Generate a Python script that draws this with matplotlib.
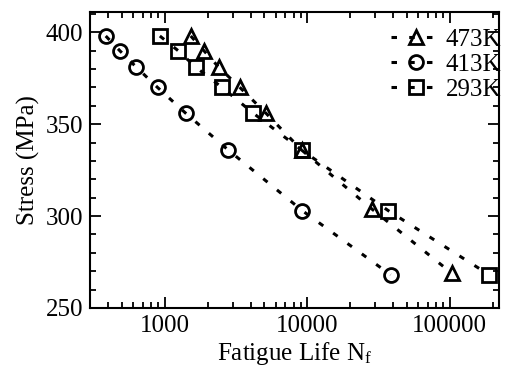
import matplotlib
matplotlib.use("Agg")
import matplotlib.pyplot as plt
from matplotlib.ticker import LogLocator, MultipleLocator, FixedLocator, NullFormatter

plt.rcParams['font.family'] = ['Liberation Serif', 'DejaVu Serif']
plt.rcParams['mathtext.fontset'] = 'custom'
plt.rcParams['mathtext.rm'] = 'Liberation Serif'
plt.rcParams['mathtext.it'] = 'Liberation Serif:italic'

# fatigue life (cycles) and stress (MPa) per temperature
life_473 = [1520, 1880, 2390, 3360, 5120, 9100, 28200, 102700]
stress_473 = [398, 390, 381, 370, 356, 336, 304, 269]
life_413 = [385, 483, 632, 889, 1400, 2780, 9200, 38400]
stress_413 = [398, 390, 381, 370, 356, 336, 303, 268]
life_293 = [923, 1240, 1650, 2520, 4170, 9100, 36900, 188800]
stress_293 = [398, 390, 381, 370, 356, 336, 303, 268]

labels = ['473K', '413K', '293K']
markers = ['^', 'o', 's']

fig = plt.figure(figsize=(5.05, 3.67), dpi=100)
ax = fig.add_axes([0.178, 0.161, 0.81, 0.806])

series = [(life_473, stress_473), (life_413, stress_413), (life_293, stress_293)]
for (x, y), lab, m in zip(series, labels, markers):
    ax.plot(x, y, linestyle=(0, (1.8, 4)), linewidth=2.2, color='black',
            marker=m, markersize=10, markerfacecolor='none',
            markeredgecolor='black', markeredgewidth=2, label=lab)

ax.set_xscale('log')
ax.set_xlim(298, 221000)
ax.set_ylim(250, 411)
ax.xaxis.set_major_locator(FixedLocator([1000, 10000, 100000]))
ax.set_xticklabels(['1000', '10000', '100000'])
ax.xaxis.set_minor_locator(LogLocator(base=10, subs=range(2, 10)))
ax.xaxis.set_minor_formatter(NullFormatter())
ax.yaxis.set_major_locator(MultipleLocator(50))
ax.yaxis.set_minor_locator(MultipleLocator(10))

ax.tick_params(which='both', direction='in', top=True, right=True, width=1.3, labelsize=18, pad=5)
ax.tick_params(which='major', length=8)
ax.tick_params(which='minor', length=4.5)
for s in ax.spines.values():
    s.set_linewidth(1.5)

ax.set_xlabel('Fatigue Life N$_\\mathrm{f}$', fontsize=18, labelpad=2)
ax.set_ylabel('Stress (MPa)', fontsize=18, labelpad=4)

ax.legend(loc='upper right', bbox_to_anchor=(1.006, 0.946), frameon=False, fontsize=18,
          handlelength=2.0, handletextpad=0.2, labelspacing=0.1,
          borderaxespad=0, borderpad=0)

fig.savefig('out.png', dpi=100)
